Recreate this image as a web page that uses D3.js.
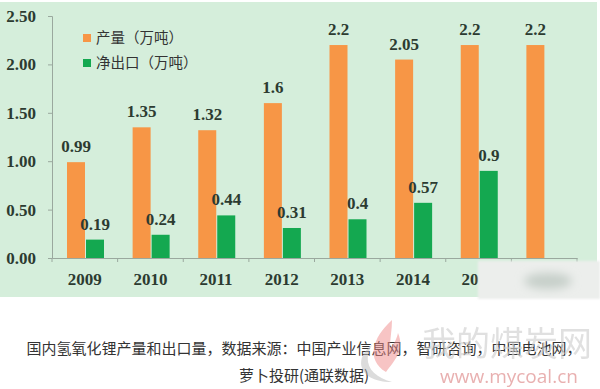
<!DOCTYPE html>
<html>
<head>
<meta charset="utf-8">
<script src="https://cdn.jsdelivr.net/npm/d3@7"></script>
<style>
  body { margin: 0; background: #fff; }
  svg { display: block; }
</style>
</head>
<body>
<div id="vis"></div>
<script>
// data
var years = ['2009','2010','2011','2012','2013','2014','2015','2016'];
var output = [0.99, 1.35, 1.32, 1.6, 2.2, 2.05, 2.2, 2.2];         // 产量（万吨）
var netExport = [0.19, 0.24, 0.44, 0.31, 0.4, 0.57, 0.9, null];    // 净出口（万吨）
var yTicks = [0, 0.5, 1, 1.5, 2, 2.5];
var legendNames = ['产量（万吨）', '净出口（万吨）'];
var captionLines = ['国内氢氧化锂产量和出口量，数据来源：中国产业信息网，智研咨询，中国电池网，', '萝卜投研(通联数据)'];

var width = 600, height = 389;
var margin = {top: 16, left: 52, right: 23, bottom: 131};
var orange = '#f79646', green = '#14a850', textCol = '#2c3b31';
var numFont = '"Liberation Serif", serif';

var svg = d3.select('#vis').append('svg')
    .attr('width', width).attr('height', height);

var defs = svg.append('defs');
defs.append('filter').attr('id', 'blur').attr('x', '-20%').attr('y', '-20%').attr('width', '140%').attr('height', '140%')
    .append('feGaussianBlur').attr('stdDeviation', 1.2);
defs.append('filter').attr('id', 'blur2').attr('x', '-50%').attr('y', '-50%').attr('width', '200%').attr('height', '200%')
    .append('feGaussianBlur').attr('stdDeviation', 5);

// green panel
svg.append('rect').attr('x', 0).attr('y', 2).attr('width', 597).attr('height', 295)
    .attr('fill', '#d5eedb');

var x = d3.scaleBand().domain(years).range([margin.left, width - margin.right]);
var y = d3.scaleLinear().domain([0, 2.5]).range([258, 16]);
var barW = 18, gapL = 15;

var g = svg.append('g');

// y axis
g.append('g').attr('transform', 'translate(' + margin.left + ',0)')
    .call(d3.axisLeft(y).tickValues(yTicks).tickSize(4).tickFormat(d3.format('.2f')))
    .call(function(a) {
        a.select('.domain').attr('stroke', '#9aa89e');
        a.selectAll('.tick line').attr('stroke', '#9aa89e');
        a.selectAll('.tick text').attr('x', -16).attr('fill', textCol)
          .attr('font-family', numFont).attr('font-size', 17).attr('font-weight', 'bold');
    });

// x axis
g.append('g').attr('transform', 'translate(0,' + y(0) + ')')
    .call(d3.axisBottom(x).tickSize(0).tickPadding(15))
    .call(function(a) {
        a.select('.domain').attr('stroke', '#9aa89e');
        a.selectAll('.tick text').attr('fill', textCol)
          .attr('font-family', numFont).attr('font-size', 17).attr('font-weight', 'bold');
    });
// category boundary ticks
g.append('g').selectAll('line').data(years.concat(['end']))
    .join('line')
    .attr('x1', function(d) { return d == 'end' ? x.range()[1] : x(d); })
    .attr('x2', function(d) { return d == 'end' ? x.range()[1] : x(d); })
    .attr('y1', y(0)).attr('y2', y(0) + 4)
    .attr('stroke', '#9aa89e');

// bars
g.append('g').selectAll('rect').data(output)
    .join('rect')
    .attr('x', function(d, i) { return x(years[i]) + gapL; })
    .attr('y', function(d) { return y(d); })
    .attr('width', barW)
    .attr('height', function(d) { return y(0) - y(d); })
    .attr('fill', orange);

var exp = netExport.map(function(v, i) { return {v: v, i: i}; }).filter(function(d) { return d.v != null; });
g.append('g').selectAll('rect').data(exp)
    .join('rect')
    .attr('x', function(d) { return x(years[d.i]) + gapL + barW + 1; })
    .attr('y', function(d) { return y(d.v); })
    .attr('width', barW)
    .attr('height', function(d) { return y(0) - y(d.v); })
    .attr('fill', green);

// value labels
g.append('g').selectAll('text').data(output)
    .join('text')
    .attr('x', function(d, i) { return x(years[i]) + gapL + barW / 2; })
    .attr('y', function(d) { return y(d) - 10; })
    .attr('text-anchor', 'middle')
    .attr('font-family', numFont).attr('font-size', 17).attr('font-weight', 'bold')
    .attr('fill', textCol)
    .text(function(d) { return d; });

g.append('g').selectAll('text').data(exp)
    .join('text')
    .attr('x', function(d) { return x(years[d.i]) + gapL + barW * 1.5 + 1; })
    .attr('y', function(d) { return y(d.v) - 10; })
    .attr('text-anchor', 'middle')
    .attr('font-family', numFont).attr('font-size', 17).attr('font-weight', 'bold')
    .attr('fill', textCol)
    .text(function(d) { return d.v; });

// legend
var leg = g.append('g').selectAll('g').data(legendNames)
    .join('g')
    .attr('transform', function(d, i) { return 'translate(83,' + (38 + i * 25) + ')'; });
leg.append('rect').attr('x', 0).attr('y', -4).attr('width', 8).attr('height', 8)
    .attr('fill', function(d, i) { return i == 0 ? orange : green; });
leg.append('text').attr('x', 13).attr('y', 5)
    .attr('font-family', '"Noto Sans CJK SC", sans-serif').attr('font-size', 14.5)
    .attr('fill', '#333').text(function(d) { return d; });

// blurred smudge over the last axis labels
svg.append('rect').attr('x', 478).attr('y', 261).attr('width', 122).attr('height', 38)
    .attr('fill', '#eceeec').attr('filter', 'url(#blur)');
svg.append('ellipse').attr('cx', 548).attr('cy', 281).attr('rx', 24).attr('ry', 8)
    .attr('fill', '#c6cfc9').attr('filter', 'url(#blur2)');

// caption
svg.append('g').selectAll('text').data(captionLines)
    .join('text')
    .attr('x', 304).attr('y', function(d, i) { return 354 + i * 27; })
    .attr('text-anchor', 'middle')
    .attr('font-family', '"Noto Sans CJK SC", sans-serif').attr('font-size', 15)
    .attr('fill', '#333').text(function(d) { return d; });

// watermark
var wm = svg.append('g').attr('opacity', 0.85);
wm.append('path').attr('d', 'M392,320 C372,338 366,360 386,372 C395,360 405,350 398,333 C396,342 392,346 390,348 C390,338 392,330 392,320 Z')
    .attr('fill', '#ee8a8a').attr('opacity', 0.6);
wm.append('path').attr('d', 'M372,345 C352,360 360,382 392,382 C370,376 362,362 372,345 Z')
    .attr('fill', '#bbbbbb').attr('opacity', 0.6);
wm.append('text').attr('x', 422).attr('y', 356)
    .attr('font-family', '"Noto Sans CJK SC", sans-serif').attr('font-size', 34)
    .attr('fill', '#cfcfcf').attr('opacity', 0.75).text('我的煤炭网');
wm.append('text').attr('x', 440).attr('y', 383)
    .attr('font-family', '"Open Sans", sans-serif').attr('font-size', 19)
    .attr('fill', '#e5a3a3').text('www.mycoal.cn');
</script>
</body>
</html>
